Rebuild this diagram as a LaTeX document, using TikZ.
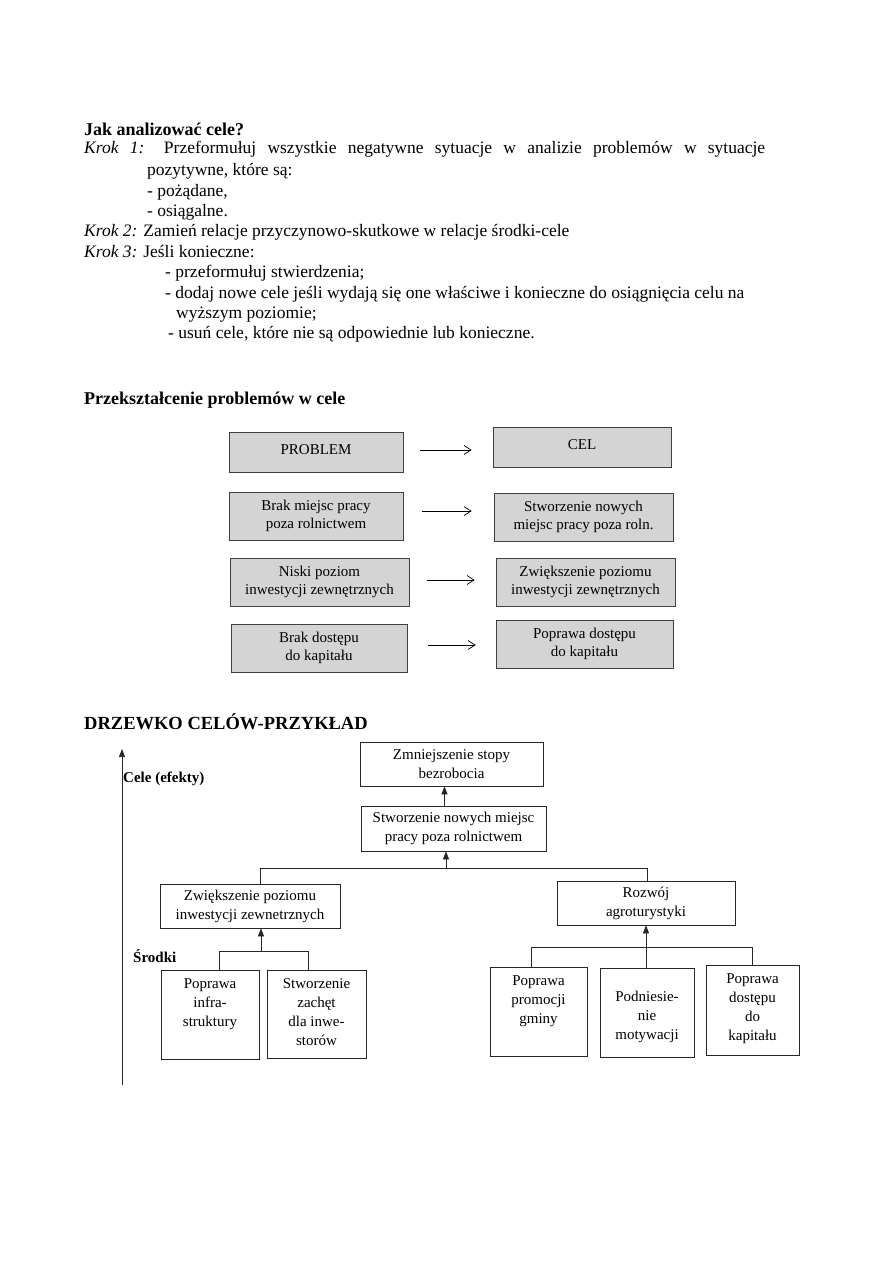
\documentclass[tikz,border=0pt]{standalone}
\usepackage{fontspec}
\setmainfont{Liberation Serif}
\usetikzlibrary{arrows.meta,shadows,positioning}
\begin{document}
\begin{tikzpicture}[x=1pt,y=-1pt,
  txt/.style={anchor=base west, inner sep=0pt, font=\fontsize{17.5}{20}\selectfont},
  hd/.style={anchor=base west, inner sep=0pt, font=\fontsize{18}{20}\selectfont\bfseries},
  gbox/.style={draw=black!75, fill=black!17, line width=0.7pt, align=center, inner sep=0pt,
     font=\fontsize{15}{17.5}\selectfont,
     drop shadow={shadow xshift=1.2pt, shadow yshift=-1.2pt, fill=black!60, opacity=1}},
  barb/.style={line width=0.7pt, -{Straight Barb[length=7pt,width=9pt,line width=0.7pt]}},
  tbox/.style={draw=black!85, line width=0.7pt, inner sep=0pt},
  ttxt/.style={inner sep=0pt, align=center, font=\fontsize{15}{19}\selectfont},
  tline/.style={line width=0.7pt, black!85},
  tarr/.style={line width=0.7pt, black!85, -{Triangle[length=8pt,width=6pt]}},
  lbl/.style={anchor=base west, inner sep=0pt, font=\fontsize{15}{18}\selectfont\bfseries}
]
\useasboundingbox (0,0) rectangle (893,1263);
\fill[white] (0,0) rectangle (893,1263);

% ---- top text ----
\node[hd] (t0) at (84,135) {Jak analizować cele?};
\node[txt] (t1) at (84,153) {\makebox[681pt][s]{\textit{Krok 1:} Przeformułuj wszystkie negatywne sytuacje w analizie problemów w sytuacje}};
\node[txt] (t2) at (147,175) {pozytywne, które są:};
\node[txt] (t3) at (147,196) {- pożądane,};
\node[txt] (t4) at (147,216) {- osiągalne.};
\node[txt] (t5) at (84,236) {\textit{Krok 2:} Zamień relacje przyczynowo-skutkowe w relacje środki-cele};
\node[txt] (t6) at (84,257) {\textit{Krok 3:} Jeśli konieczne:};
\node[txt] (t7) at (165,277) {- przeformułuj stwierdzenia;};
\node[txt] (t8) at (165,298) {- dodaj nowe cele jeśli wydają się one właściwe i konieczne do osiągnięcia celu na};
\node[txt] (t9) at (176,318) {wyższym poziomie;};
\node[txt] (t10) at (168,338) {- usuń cele, które nie są odpowiednie lub konieczne.};

\node[hd] (h2) at (84,404) {Przekształcenie problemów w cele};

% ---- problem -> goal boxes ----
\node[gbox, minimum width=174pt, minimum height=40pt] (p0) at (316,452) {\raisebox{4pt}{PROBLEM}};
\node[gbox, minimum width=178pt, minimum height=40pt] (c0) at (582,447) {\raisebox{4pt}{CEL}};
\node[gbox, minimum width=174pt, minimum height=48pt] (p1) at (316,516) {Brak miejsc pracy\\poza rolnictwem};
\node[gbox, minimum width=179pt, minimum height=48pt] (c1) at (583.5,517) {Stworzenie nowych\\miejsc pracy poza roln.};
\node[gbox, minimum width=179pt, minimum height=48pt] (p2) at (319.5,582) {Niski poziom\\inwestycji zewnętrznych};
\node[gbox, minimum width=179pt, minimum height=48pt] (c2) at (585.5,582) {Zwiększenie poziomu\\inwestycji zewnętrznych};
\node[gbox, minimum width=176pt, minimum height=48pt] (p3) at (319,648) {Brak dostępu\\do kapitału};
\node[gbox, minimum width=177pt, minimum height=48pt] (c3) at (584.5,644) {Poprawa dostępu\\do kapitału};

\draw[barb] ([xshift=17pt,yshift=2pt]p0.east) -- ([xshift=-21pt,yshift=2pt]p0.east -| c0.west);
\draw[barb] ([xshift=19pt,yshift=5pt]p1.east) -- ([xshift=-22pt,yshift=5pt]p1.east -| c1.west);
\draw[barb] ([xshift=18pt,yshift=2pt]p2.east) -- ([xshift=-21pt,yshift=2pt]p2.east -| c2.west);
\draw[barb] ([xshift=21pt,yshift=3pt]p3.east) -- ([xshift=-20pt,yshift=3pt]p3.east -| c3.west);

% ---- tree ----
\node[anchor=base west, inner sep=0pt, font=\fontsize{18.5}{22}\selectfont\bfseries] (h3) at (84,729) {DRZEWKO CELÓW-PRZYKŁAD};

\coordinate (ax0) at (122,1085);
\coordinate (ax1) at (122,749);
\draw[tarr] (ax0) -- (ax1);
\node[lbl] (l1) at (123,782) {Cele (efekty)};
\node[lbl] (l2) at (133,962) {Środki};

\node[tbox, minimum width=183pt, minimum height=44pt] (A) at (451.5,764) {};
\node[ttxt] at (A) {Zmniejszenie stopy\\bezrobocia};
\node[tbox, minimum width=185pt, minimum height=45pt] (B) at (453.5,828.5) {};
\node[ttxt] at (B) {Stworzenie nowych miejsc\\pracy poza rolnictwem};
\node[tbox, minimum width=180pt, minimum height=44pt] (C) at (250,906) {};
\node[ttxt] at (C) {Zwiększenie poziomu\\inwestycji zewnetrznych};
\node[tbox, minimum width=178pt, minimum height=44pt] (D) at (646,903) {};
\node[ttxt] at (D) {Rozwój\\agroturystyki};

\node[tbox, minimum width=98pt, minimum height=89pt] (E) at (210,1014.5) {};
\node[ttxt, anchor=north] at ([yshift=-9pt]E.north) {Poprawa\\infra-\\struktury};
\node[tbox, minimum width=99pt, minimum height=88pt] (F) at (316.5,1014) {};
\node[ttxt, anchor=north] at ([yshift=-9pt]F.north) {Stworzenie\\zachęt\\dla inwe-\\storów};
\node[tbox, minimum width=97pt, minimum height=89pt] (G) at (538.5,1011.5) {};
\node[ttxt, anchor=north] at ([yshift=-9pt]G.north) {Poprawa\\promocji\\gminy};
\node[tbox, minimum width=94pt, minimum height=89pt] (H) at (647,1012.5) {};
\node[ttxt] at ([yshift=-4.5pt]H.center) {Podniesie-\\nie\\motywacji};
\node[tbox, minimum width=93pt, minimum height=90pt] (I) at (752.5,1010) {};
\node[ttxt, anchor=north] at ([yshift=-9pt]I.north) {Poprawa\\dostępu\\do\\kapitału};

% connectors
\draw[tarr] ([xshift=-9pt]B.north) -- ([xshift=-9pt]B.north |- A.south);
\coordinate (j1) at (446,868);
\draw[tarr] (j1) -- (j1 |- B.south);
\draw[tline] ([xshift=10pt]C.north) |- (j1) -| ([xshift=1pt]D.north);

\coordinate (j2) at (261,951);
\draw[tarr] (j2) -- (j2 |- C.south);
\draw[tline] ([xshift=9pt]E.north) |- (j2) -| ([xshift=-8.5pt]F.north);

\coordinate (j3) at (646,947);
\draw[tarr] (j3) -- (j3 |- D.south);
\draw[tline] ([xshift=-7.5pt]G.north) |- (j3) -| (I.north);
\draw[tline] (j3) -- (j3 |- H.north);
\end{tikzpicture}
\end{document}
